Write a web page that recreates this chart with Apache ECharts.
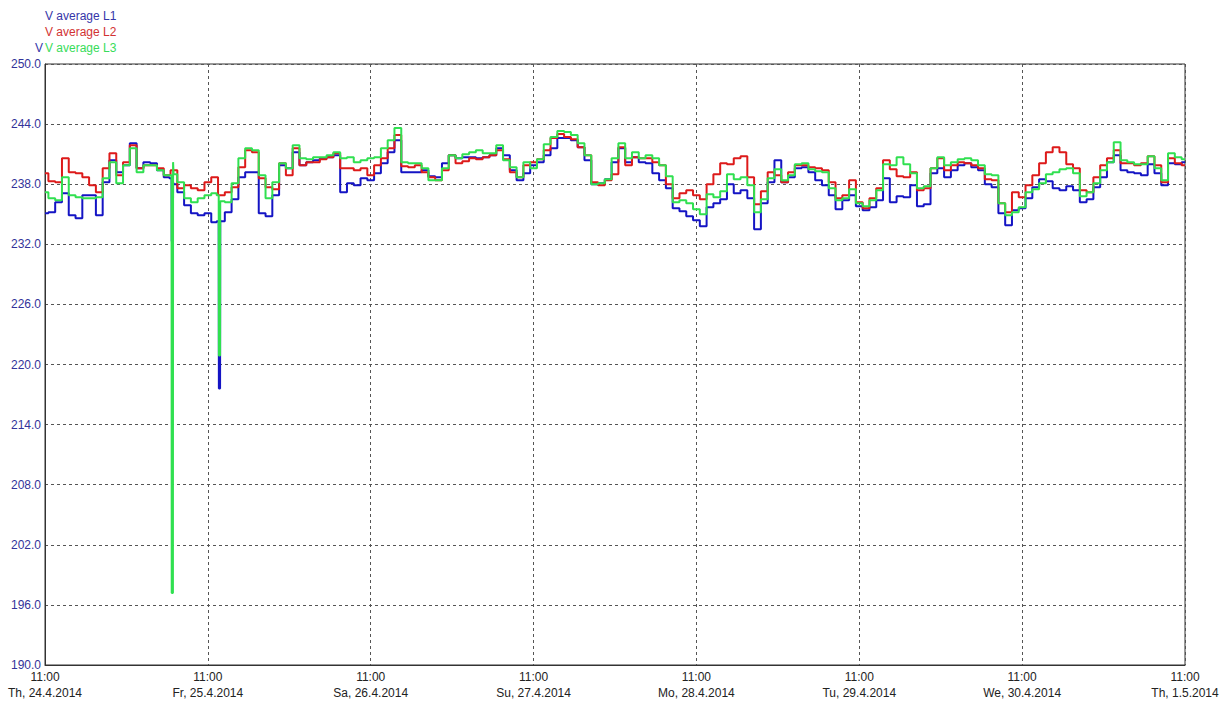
<!DOCTYPE html>
<html>
<head>
<meta charset="utf-8">
<script src="https://cdn.jsdelivr.net/npm/echarts@6/dist/echarts.min.js"></script>
<style>
  html, body { margin: 0; padding: 0; background: #fff; }
  #chart { width: 1225px; height: 704px; }
</style>
</head>
<body>
<div id="chart"></div>
<script>
// hourly readings, 11:00 Th 24.4.2014 -> 11:00 Th 1.5.2014 (169 points each)
const dayLabels = ["Th, 24.4.2014", "Fr, 25.4.2014", "Sa, 26.4.2014", "Su, 27.4.2014",
  "Mo, 28.4.2014", "Tu, 29.4.2014", "We, 30.4.2014", "Th, 1.5.2014"];
const tickTime = "11:00";

const vL1 = [
  235.1, 235.2, 236.2, 237.1, 234.9, 234.6, 236.9, 236.9, 234.9, 238.2, 240.4, 239.2, 239.9, 242.1, 239.6, 240.2, 240.1, 239.4, 238.7, 238.0, 237.2, 235.9, 235.1, 234.9, 235.1, 234.2, 234.3, 235.2,
  236.5, 238.7, 239.2, 239.2, 235.1, 234.8, 236.9, 239.9, 239.6, 241.2, 239.9, 240.2, 240.4, 240.6, 240.7, 240.9, 237.2, 238.1, 237.9, 238.6, 238.4, 239.1, 240.1, 241.2, 242.4, 239.2, 239.2, 239.2,
  239.4, 238.8, 238.7, 240.1, 240.9, 240.6, 240.7, 240.7, 240.6, 240.7, 240.9, 241.6, 240.9, 239.4, 238.4, 239.1, 239.9, 240.2, 240.9, 241.6, 242.6, 242.6, 242.4, 241.7, 240.4, 238.0, 238.1, 238.5,
  240.2, 241.6, 240.2, 240.7, 240.2, 240.1, 239.1, 238.4, 237.6, 235.6, 235.3, 234.8, 234.4, 233.8, 235.7, 236.1, 236.5, 238.0, 237.1, 237.4, 236.6, 233.5, 236.1, 238.2, 240.4, 238.2, 238.7, 239.6,
  239.7, 239.2, 238.4, 237.9, 236.9, 235.5, 236.4, 236.9, 235.8, 235.4, 235.7, 236.4, 238.6, 236.2, 236.8, 236.7, 237.9, 235.8, 236.0, 239.1, 239.6, 238.7, 239.4, 239.9, 240.1, 239.7, 239.4, 238.0,
  237.7, 235.1, 233.9, 235.4, 235.6, 236.6, 237.7, 238.5, 238.3, 237.6, 237.4, 237.8, 237.4, 236.2, 236.5, 237.7, 238.7, 240.2, 240.9, 239.4, 239.2, 239.1, 238.9, 240.0, 239.1, 237.9, 240.1, 240.0, 240.2
];
const vL2 = [
  239.1, 238.3, 238.2, 240.6, 239.2, 239.1, 238.7, 237.9, 237.2, 239.6, 241.1, 238.9, 240.2, 241.9, 239.6, 239.9, 239.9, 239.6, 238.9, 239.4, 237.6, 237.9, 237.6, 237.4, 238.2, 238.7, 236.9, 237.2,
  237.7, 239.7, 241.4, 241.2, 238.6, 237.7, 237.5, 240.1, 238.9, 241.6, 239.9, 240.2, 240.2, 240.5, 240.7, 241.1, 239.6, 239.6, 239.4, 239.6, 238.9, 239.9, 240.6, 241.6, 242.9, 239.8, 239.7, 239.9,
  239.2, 238.7, 238.4, 239.4, 240.9, 240.1, 240.3, 240.6, 240.5, 240.7, 240.9, 241.4, 240.5, 239.2, 238.7, 239.9, 240.2, 240.5, 241.4, 242.6, 243.0, 242.7, 242.5, 241.7, 240.9, 238.2, 237.9, 238.4,
  239.0, 241.7, 239.9, 240.7, 240.6, 240.6, 240.2, 239.9, 238.0, 236.6, 237.1, 237.4, 236.9, 236.5, 238.0, 239.0, 240.1, 240.0, 240.6, 240.8, 238.7, 236.0, 237.3, 239.2, 238.9, 238.2, 239.2, 239.9,
  239.9, 239.7, 239.6, 239.4, 238.2, 236.6, 236.9, 238.4, 236.2, 235.6, 236.6, 237.6, 240.4, 239.5, 238.8, 238.7, 239.2, 237.4, 237.6, 239.6, 240.6, 239.4, 239.9, 240.2, 240.1, 239.9, 239.6, 238.5,
  238.4, 236.1, 235.2, 237.2, 236.7, 237.9, 238.9, 240.1, 241.2, 241.7, 241.2, 240.0, 239.6, 237.4, 237.2, 238.7, 239.9, 240.6, 241.4, 240.1, 240.1, 239.9, 240.1, 240.8, 239.9, 238.2, 240.6, 240.1, 239.9
];
const vL3 = [
  237.2, 236.6, 236.4, 238.7, 236.9, 236.7, 236.6, 236.6, 236.7, 238.6, 240.2, 238.1, 239.9, 241.6, 239.2, 239.9, 239.9, 239.4, 238.9, 239.0, 238.2, 236.6, 236.2, 236.6, 236.9, 237.1, 236.3, 236.2,
  238.1, 240.6, 241.6, 241.4, 238.9, 236.6, 238.2, 240.1, 239.6, 241.9, 240.6, 240.5, 240.7, 240.7, 240.9, 241.2, 240.6, 240.7, 240.2, 240.4, 240.6, 240.7, 241.6, 242.4, 243.6, 240.2, 240.1, 240.1,
  239.6, 238.4, 238.4, 239.6, 240.9, 240.6, 241.0, 241.2, 241.4, 241.1, 241.1, 241.9, 240.4, 239.7, 238.7, 240.2, 239.6, 240.5, 242.0, 242.7, 243.3, 243.2, 242.9, 242.1, 240.9, 238.0, 238.1, 238.5,
  240.6, 242.1, 240.6, 241.2, 240.6, 240.9, 240.6, 239.9, 238.8, 236.2, 236.4, 236.1, 235.5, 235.0, 237.0, 236.7, 237.3, 239.0, 238.5, 238.7, 237.9, 235.2, 236.5, 238.6, 239.5, 238.4, 238.9, 240.0,
  240.1, 239.5, 239.3, 239.2, 237.6, 236.4, 236.6, 237.5, 236.1, 235.8, 236.4, 237.4, 240.0, 239.9, 240.7, 240.0, 239.1, 237.6, 237.8, 239.6, 240.7, 239.9, 240.2, 240.5, 240.6, 240.4, 239.9, 239.0,
  238.9, 236.1, 234.9, 235.2, 235.7, 237.2, 237.5, 238.1, 239.0, 239.2, 239.5, 239.6, 239.1, 236.8, 237.2, 238.1, 239.4, 240.2, 242.2, 240.4, 240.2, 240.0, 240.0, 240.8, 239.6, 238.4, 241.1, 240.7, 240.5
];

// short voltage dips on Fr 25.4, extra readings between the hourly ones (hours after start)
const dipHours = [18.65, 18.7, 18.85, 18.9, 25.6, 25.65, 25.8, 25.85];
const dipL1 = [238.6, 232.3, 232.3, 238.2, 234.3, 217.6, 217.6, 234.4];
const dipL3 = [238.9, 197.2, 197.2, 240.2, 236.9, 220.9, 220.9, 236.3];

const toPairs = (arr, extraX, extraY) => {
  const pts = arr.map((v, i) => [i, v]);
  if (extraX) extraX.forEach((h, i) => pts.push([h, extraY[i]]));
  return pts.sort((a, b) => a[0] - b[0]);
};
const font = "Arial, 'Liberation Sans', sans-serif";
const gridLine = { show: true, lineStyle: { color: "#555", type: [3, 3], width: 1 } };

const chart = echarts.init(document.getElementById("chart"), null, { renderer: "svg" });

const option = {
  animation: false,
  backgroundColor: "#fff",
  grid: { left: 45, right: 40, top: 64, bottom: 39, show: true, borderColor: "#333", borderWidth: 1 },
  xAxis: {
    type: "value",
    min: 0,
    max: 168,
    interval: 24,
    axisLine: { show: true, lineStyle: { color: "#333" } },
    axisTick: { show: false },
    splitLine: gridLine,
    axisLabel: {
      showMinLabel: true,
      showMaxLabel: true,
      margin: 4,
      color: "#222",
      fontSize: 12,
      fontFamily: font,
      lineHeight: 16,
      formatter: (v) => tickTime + "\n" + dayLabels[Math.round(v / 24)]
    }
  },
  yAxis: {
    type: "value",
    min: 190,
    max: 250,
    interval: 6,
    axisLine: { show: true, lineStyle: { color: "#333" } },
    axisTick: { show: false },
    splitLine: gridLine,
    axisLabel: {
      margin: 4,
      color: "#33339a",
      fontSize: 12,
      fontFamily: font,
      formatter: (v) => v.toFixed(1)
    }
  },
  graphic: [
    { type: "text", left: 45, top: 10, style: { text: "V average L1", fill: "#3535a8", font: "12px " + font } },
    { type: "text", left: 45, top: 26, style: { text: "V average L2", fill: "#d23232", font: "12px " + font } },
    { type: "text", left: 35, top: 42, style: { text: "V", fill: "#3535a8", font: "12px " + font } },
    { type: "text", left: 45, top: 42, style: { text: "V average L3", fill: "#38dc5a", font: "12px " + font } }
  ],
  series: [
    { name: "V average L1", type: "line", step: "middle", symbol: "none", data: toPairs(vL1, dipHours, dipL1),
      lineStyle: { color: "#1414c4", width: 2 } },
    { name: "V average L2", type: "line", step: "middle", symbol: "none", data: toPairs(vL2),
      lineStyle: { color: "#dd1a1a", width: 2 } },
    { name: "V average L3", type: "line", step: "middle", symbol: "none", data: toPairs(vL3, dipHours, dipL3),
      lineStyle: { color: "#30e050", width: 2 } }
  ]
};

chart.setOption(option);
</script>
</body>
</html>
